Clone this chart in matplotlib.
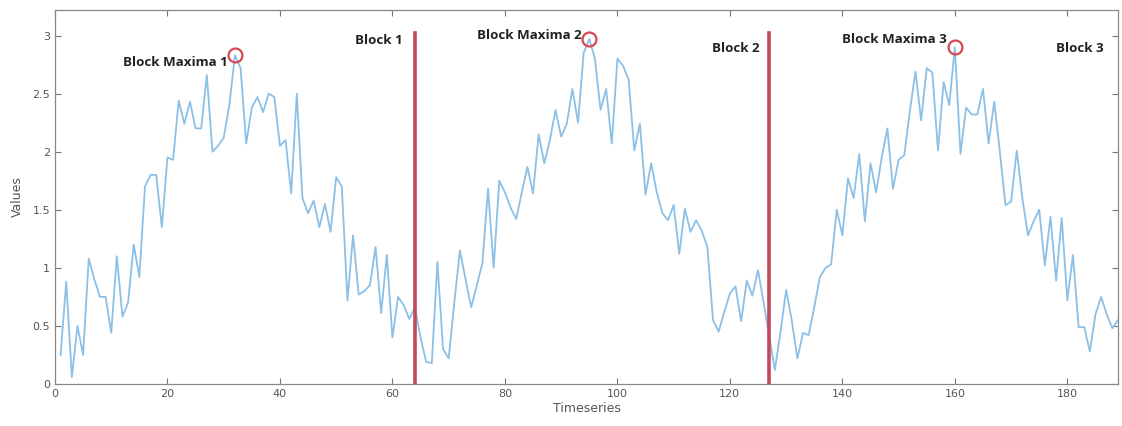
import numpy as np
import matplotlib
matplotlib.use("Agg")
import matplotlib.pyplot as plt

# series values, one per time step (1..189)
values = [
    0.25, 0.88, 0.06, 0.50, 0.25, 1.08, 0.90, 0.75, 0.75, 0.44,
    1.10, 0.58, 0.70, 1.20, 0.92, 1.70, 1.80, 1.80, 1.35, 1.95,
    1.93, 2.44, 2.24, 2.43, 2.20, 2.20, 2.66, 2.00, 2.05, 2.12,
    2.40, 2.83, 2.72, 2.07, 2.38, 2.47, 2.34, 2.50, 2.47, 2.05,
    2.10, 1.64, 2.50, 1.60, 1.47, 1.58, 1.35, 1.55, 1.31, 1.78,
    1.70, 0.72, 1.28, 0.77, 0.80, 0.85, 1.18, 0.61, 1.11, 0.40,
    0.75, 0.68, 0.56, 0.66, 0.40, 0.19, 0.18, 1.05, 0.30, 0.22,
    0.70, 1.15, 0.90, 0.66, 0.85, 1.04, 1.68, 1.00, 1.75, 1.65,
    1.52, 1.42, 1.65, 1.87, 1.64, 2.15, 1.90, 2.10, 2.36, 2.13,
    2.24, 2.54, 2.25, 2.85, 2.97, 2.80, 2.36, 2.54, 2.07, 2.80,
    2.74, 2.62, 2.01, 2.24, 1.63, 1.90, 1.65, 1.47, 1.41, 1.54,
    1.12, 1.51, 1.31, 1.41, 1.32, 1.18, 0.55, 0.45, 0.62, 0.78,
    0.84, 0.54, 0.89, 0.76, 0.98, 0.70, 0.41, 0.12, 0.45, 0.81,
    0.55, 0.22, 0.44, 0.42, 0.66, 0.92, 1.00, 1.03, 1.50, 1.28,
    1.77, 1.60, 1.98, 1.40, 1.90, 1.65, 1.95, 2.20, 1.68, 1.93,
    1.97, 2.35, 2.69, 2.27, 2.72, 2.68, 2.01, 2.60, 2.40, 2.90,
    1.98, 2.38, 2.32, 2.32, 2.54, 2.07, 2.43, 2.00, 1.54, 1.57,
    2.01, 1.60, 1.28, 1.40, 1.50, 1.02, 1.44, 0.89, 1.43, 0.72,
    1.11, 0.49, 0.49, 0.28, 0.60, 0.75, 0.60, 0.48, 0.55,
]
t = np.arange(1, len(values) + 1)

block_edges = [64, 127]
block_labels = ["Block 1", "Block 2", "Block 3"]
maxima_idx = [32, 95, 160]
maxima_labels = ["Block Maxima 1", "Block Maxima 2", "Block Maxima 3"]

fig = plt.figure(figsize=(11.22, 4.26), dpi=100)
ax = fig.add_axes([0.049, 0.0986, 0.9474, 0.878])

ax.plot(t, values, color="#8cc0e6", lw=1.3)

for xb in block_edges:
    ax.plot([xb, xb], [0, 3.02], color="#c2485e", lw=2.6)

mx = np.array(maxima_idx)
my = np.array([values[i - 1] for i in maxima_idx])
ax.plot(mx, my, "o", ms=10, mfc="none", mec="#d9474f", mew=1.6)

txt = dict(fontsize=9.6, fontweight="bold", family="Open Sans", color="#222222")
ax.text(30.8, 2.77, maxima_labels[0], ha="right", va="center", **txt)
ax.text(93.6, 3.0, maxima_labels[1], ha="right", va="center", **txt)
ax.text(158.6, 2.97, maxima_labels[2], ha="right", va="center", **txt)
ax.text(61.8, 2.96, block_labels[0], ha="right", va="center", **txt)
ax.text(125.2, 2.89, block_labels[1], ha="right", va="center", **txt)
ax.text(186.5, 2.89, block_labels[2], ha="right", va="center", **txt)

ax.set_xlim(0, 189)
ax.set_ylim(0, 3.22)
ax.set_xticks(np.arange(0, 181, 20))
ax.set_yticks([0, 0.5, 1, 1.5, 2, 2.5, 3])
ax.set_yticklabels(["0", "0.5", "1", "1.5", "2", "2.5", "3"])
ax.tick_params(direction="in", top=True, right=True, length=4, width=0.8,
               colors="#777777", labelsize=8, labelcolor="#555555")
for s in ax.spines.values():
    s.set_color("#888888")
    s.set_linewidth(0.9)

ax.set_xlabel("Timeseries", fontsize=9, color="#555555", labelpad=2)
ax.set_ylabel("Values", fontsize=9, color="#555555", labelpad=6)

fig.savefig("out.png", dpi=100)
